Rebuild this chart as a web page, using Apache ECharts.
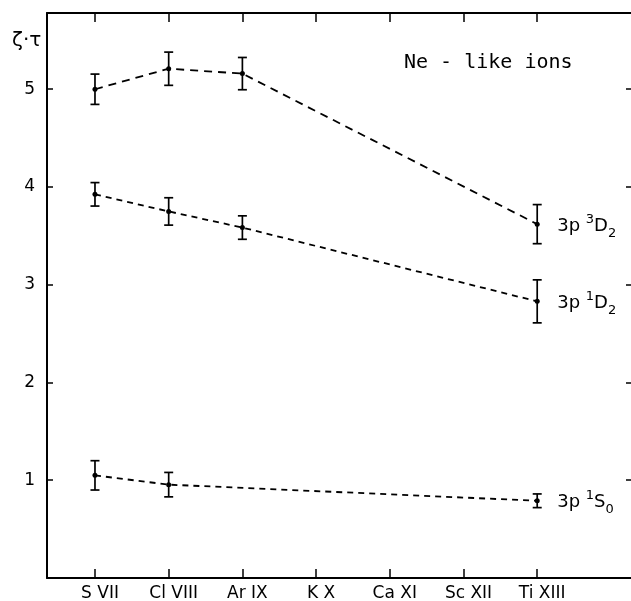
<!DOCTYPE html>
<html>
<head>
<meta charset="utf-8">
<script src="https://cdn.jsdelivr.net/npm/echarts@6/dist/echarts.min.js"></script>
<style>html,body{margin:0;padding:0;background:#fff;}#c{width:631px;height:601px;}</style>
</head>
<body>
<div id="c"></div>
<script>
// ---- data ----
const categories = ['S VII', 'Cl VIII', 'Ar IX', 'K X', 'Ca XI', 'Sc XII', 'Ti XIII'];
const yTicks = [1, 2, 3, 4, 5];
const val3D2 = [5.00, 5.21, 5.16, null, null, null, 3.62];
const err3D2 = [0.155, 0.17, 0.165, null, null, null, 0.20];
const val1D2 = [3.925, 3.75, 3.585, null, null, null, 2.83];
const err1D2 = [0.12, 0.14, 0.12, null, null, null, 0.22];
const val1S0 = [1.05, 0.955, null, null, null, null, 0.79];
const err1S0 = [0.15, 0.125, null, null, null, null, 0.07];

function pts(vals) {
  const out = [];
  vals.forEach((v, i) => { if (v !== null) out.push([i, v]); });
  return out;
}
function errPts(vals, errs) {
  const out = [];
  vals.forEach((v, i) => { if (v !== null) out.push([i, v, errs[i]]); });
  return out;
}

const chart = echarts.init(document.getElementById('c'), null, {renderer: 'canvas'});
const FONT = 'DejaVu Sans';
const xIdx = categories.map((c, i) => i);
const X_MIN = -0.651, X_MAX = 7.354;

function errSeries(vals, errs) {
  return {
    type: 'custom',
    data: errPts(vals, errs),
    z: 3,
    renderItem: function (params, api) {
      const x = api.value(0), y = api.value(1), e = api.value(2);
      const t = api.coord([x, y + e]);
      const b = api.coord([x, y - e]);
      const hw = 4.5;
      const st = {stroke: '#000', lineWidth: 1.7};
      return {type: 'group', children: [
        {type: 'line', shape: {x1: t[0], y1: t[1], x2: b[0], y2: b[1]}, style: st},
        {type: 'line', shape: {x1: t[0] - hw, y1: t[1], x2: t[0] + hw, y2: t[1]}, style: st},
        {type: 'line', shape: {x1: b[0] - hw, y1: b[1], x2: b[0] + hw, y2: b[1]}, style: st}
      ]};
    }
  };
}
const rich = {
  a: {fontSize: 18, fontFamily: FONT, color: '#000', lineHeight: 27, verticalAlign: 'middle'},
  sup: {fontSize: 13, fontFamily: FONT, color: '#000', lineHeight: 16, verticalAlign: 'top'},
  sub: {fontSize: 13, fontFamily: FONT, color: '#000', lineHeight: 13, verticalAlign: 'bottom'}
};
function lineSeries(vals, label, dash) {
  return {
    type: 'line',
    data: pts(vals),
    symbol: 'circle',
    symbolSize: 5,
    itemStyle: {color: '#000'},
    lineStyle: {color: '#000', width: 1.8, type: dash},
    z: 2,
    endLabel: {show: true, formatter: label, rich: rich, distance: 20, offset: [0, 2]}
  };
}

chart.setOption({
  animation: false,
  backgroundColor: '#fff',
  title: [
    {text: 'Ne - like ions', left: 399, top: 48, textStyle: {fontFamily: 'DejaVu Sans Mono', fontSize: 20, fontWeight: 'normal', color: '#000'}},
    {text: 'ζ·τ', left: 7, top: 26, textStyle: {fontFamily: FONT, fontSize: 20, fontWeight: 'normal', color: '#000'}}
  ],
  grid: {left: 47, width: 590, top: 13, bottom: 23, containLabel: false, outerBoundsMode: 'none'},
  xAxis: [
    {type: 'value', position: 'bottom', min: X_MIN, max: X_MAX,
      axisLine: {onZero: false, lineStyle: {color: '#000', width: 2}},
      axisTick: {inside: true, length: 9, customValues: xIdx, lineStyle: {color: '#000', width: 1.5}},
      axisLabel: {customValues: xIdx, formatter: v => categories[Math.round(v)], margin: 7,
        padding: [0, 0, 0, 10], fontFamily: FONT, fontSize: 17, color: '#000'},
      splitLine: {show: false}},
    {type: 'value', position: 'top', min: X_MIN, max: X_MAX,
      axisLine: {onZero: false, lineStyle: {color: '#000', width: 2}},
      axisTick: {inside: true, length: 9, customValues: xIdx, lineStyle: {color: '#000', width: 1.5}},
      axisLabel: {show: false}, splitLine: {show: false}}
  ],
  yAxis: [
    {type: 'value', position: 'left', min: 0, max: 5.78,
      axisLine: {show: true, onZero: false, lineStyle: {color: '#000', width: 2}},
      axisTick: {inside: true, length: 6, customValues: yTicks, lineStyle: {color: '#000', width: 1.5}},
      axisLabel: {customValues: yTicks, margin: 12, fontFamily: FONT, fontSize: 17, color: '#000'},
      splitLine: {show: false}},
    {type: 'value', position: 'right', min: 0, max: 5.78,
      axisLine: {show: true, onZero: false, lineStyle: {color: '#000', width: 2}},
      axisTick: {inside: true, length: 11, customValues: yTicks, lineStyle: {color: '#000', width: 1.5}},
      axisLabel: {show: false}, splitLine: {show: false}}
  ],
  series: [
    lineSeries(val3D2, '{a|3p }{sup|3}{a|D}{sub|2}', [8, 6]),
    lineSeries(val1D2, '{a|3p }{sup|1}{a|D}{sub|2}', [6, 5]),
    lineSeries(val1S0, '{a|3p }{sup|1}{a|S}{sub|0}', [6, 5]),
    errSeries(val3D2, err3D2),
    errSeries(val1D2, err1D2),
    errSeries(val1S0, err1S0)
  ]
});
</script>
</body>
</html>
